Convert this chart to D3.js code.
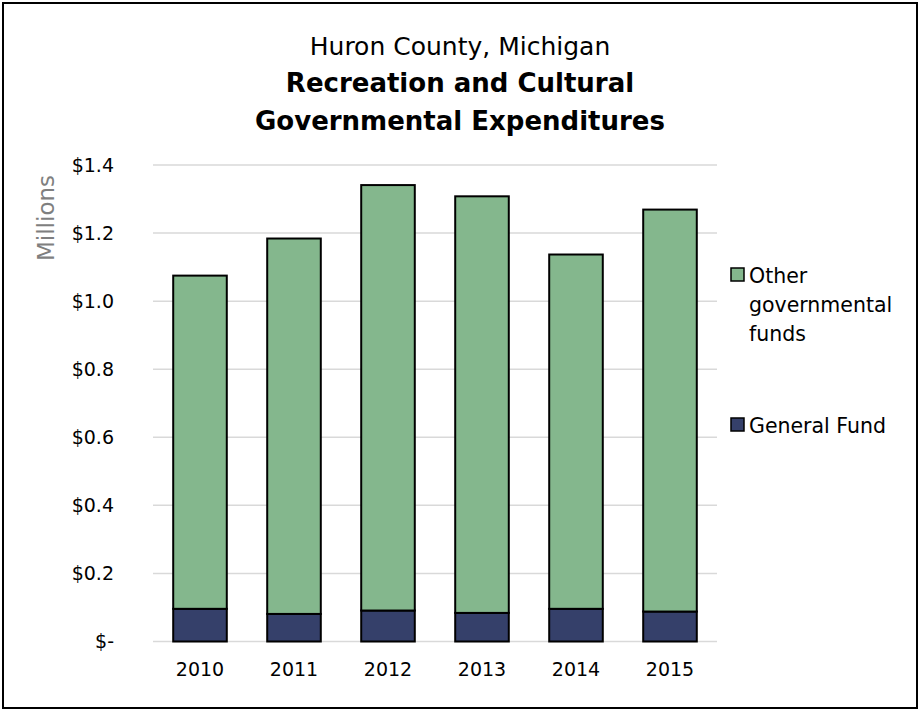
<!DOCTYPE html>
<html><head><meta charset="utf-8">
<script src="https://cdn.jsdelivr.net/npm/d3@7"></script>
<style>body{margin:0;background:#fff;} svg{display:block;}</style>
</head><body>
<svg id="chart" width="921" height="712"></svg>
<script>
const years = ["2010","2011","2012","2013","2014","2015"];
const generalFund = [0.096, 0.081, 0.091, 0.084, 0.096, 0.088];
const otherFunds = [0.979, 1.103, 1.250, 1.224, 1.041, 1.181];
const yTicks = [0, 0.2, 0.4, 0.6, 0.8, 1.0, 1.2, 1.4];
const seriesNames = ["General Fund", "Other governmental funds"];
const colors = ["#35406A", "#84B78D"];

const font = "'DejaVu Sans', sans-serif";
const svg = d3.select("#chart");
svg.append("rect").attr("x",3).attr("y",3).attr("width",914).attr("height",705)
  .attr("fill","#fff").attr("stroke","#000").attr("stroke-width",2);

const x = d3.scaleBand().domain(years).range([153,717]).paddingInner(0.43).paddingOuter(0.215);
const y = d3.scaleLinear().domain([0,1.4]).range([641.5,165]);

// gridlines
svg.append("g").selectAll("line").data(yTicks).join("line")
  .attr("x1",153).attr("x2",717).attr("y1",d=>y(d)).attr("y2",d=>y(d))
  .attr("stroke","#d9d9d9").attr("stroke-width",1.5);

// y axis labels
const yAxis = d3.axisLeft(y).tickValues(yTicks).tickSize(0).tickPadding(0)
  .tickFormat(d => d === 0 ? "$-" : "$" + d3.format(".1f")(d));
const ga = svg.append("g").attr("transform","translate(114,0)").call(yAxis);
ga.select(".domain").remove();
ga.selectAll("text").attr("font-family",font).attr("font-size",19).attr("fill","#000");

// x axis labels
const xAxis = d3.axisBottom(x).tickSize(0).tickPadding(0);
const gx = svg.append("g").attr("transform","translate(0,662)").call(xAxis);
gx.select(".domain").remove();
gx.selectAll("text").attr("font-family",font).attr("font-size",19).attr("fill","#000");

// stacked bars
const rows = years.map((yr,i)=>({year:yr, g:generalFund[i], o:otherFunds[i]}));
const stack = d3.stack().keys(["g","o"])(rows);
svg.append("g").selectAll("g").data(stack).join("g")
  .attr("fill",(d,i)=>colors[i])
  .selectAll("rect").data(d=>d).join("rect")
  .attr("x",d=>x(d.data.year)).attr("width",x.bandwidth())
  .attr("y",d=>y(d[1])).attr("height",d=>y(d[0])-y(d[1]))
  .attr("stroke","#000").attr("stroke-width",2);

// y axis title
svg.append("text").attr("transform","translate(54,218) rotate(-90)")
  .attr("text-anchor","middle").attr("font-family",font).attr("font-size",23)
  .attr("fill","#7f7f7f").text("Millions");

// title
const title = svg.append("text").attr("text-anchor","middle").attr("font-family",font).attr("fill","#000");
title.append("tspan").attr("x",460).attr("y",55).attr("font-size",25).text("Huron County, Michigan");
title.append("tspan").attr("x",460).attr("y",92).attr("font-size",26).attr("font-weight","bold").text("Recreation and Cultural");
title.append("tspan").attr("x",460).attr("y",130).attr("font-size",26).attr("font-weight","bold").text("Governmental Expenditures");

// legend
const legendItems = [
  {color:colors[1], lines:["Other","governmental","funds"], y:275},
  {color:colors[0], lines:["General Fund"], y:425}
];
const lg = svg.append("g").selectAll("g").data(legendItems).join("g");
lg.append("rect").attr("x",731).attr("y",d=>d.y-7).attr("width",13).attr("height",13)
  .attr("fill",d=>d.color).attr("stroke","#000").attr("stroke-width",1.5);
lg.append("text").attr("font-family",font).attr("font-size",20.5).attr("fill","#000")
  .each(function(d){
    d3.select(this).selectAll("tspan").data(d.lines).join("tspan")
      .attr("x",749).attr("y",(l,i)=>d.y+8+i*29).text(l=>l);
  });
</script>
</body></html>
